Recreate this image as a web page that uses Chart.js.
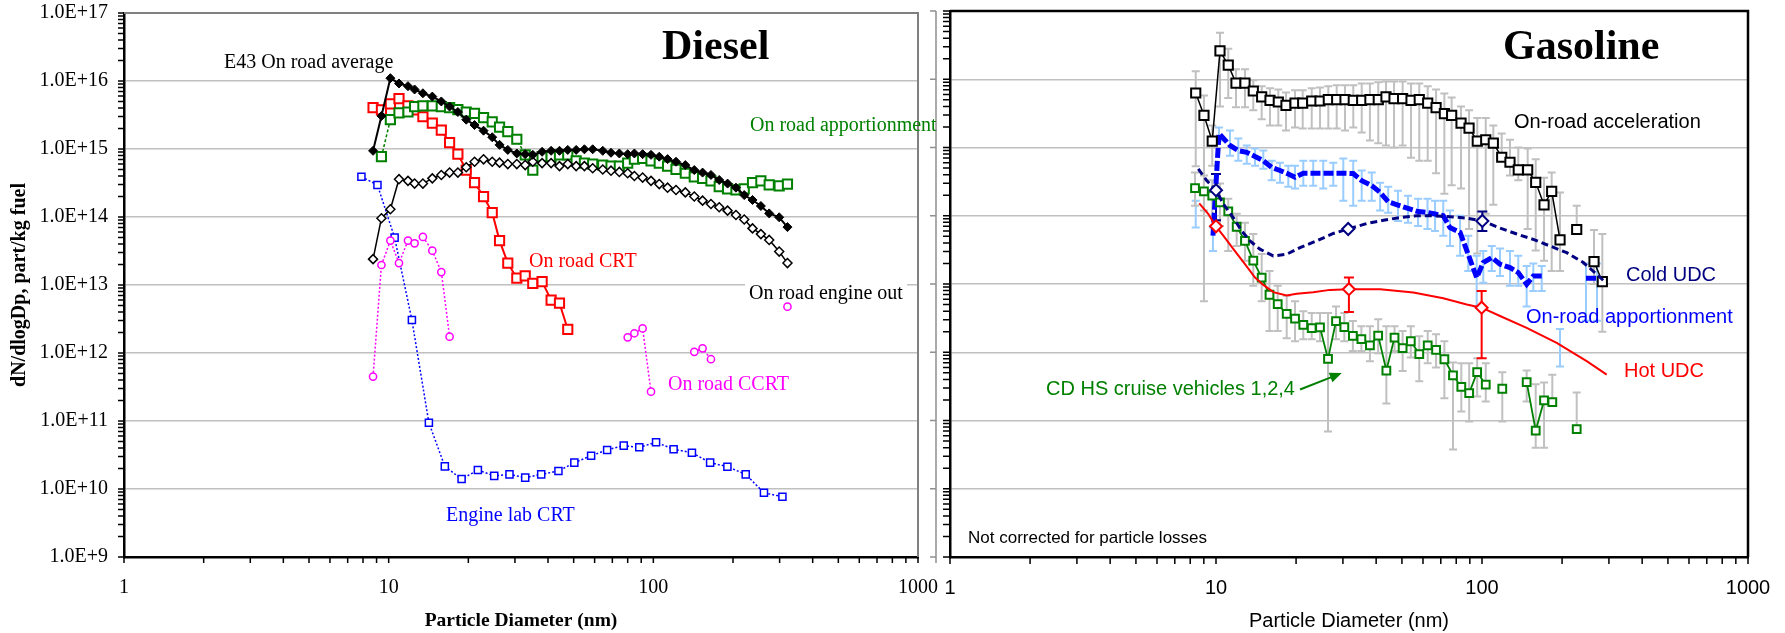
<!DOCTYPE html>
<html lang="en">
<head>
<meta charset="UTF-8" />
<title>Particle size distributions: Diesel and Gasoline</title>
<script src="https://cdn.jsdelivr.net/npm/chart.js"></script>
<style>
  body { margin: 0; background: #fff; }
  #wrap { position: relative; width: 1785px; height: 633px; overflow: hidden; background: #fff; }
  #dieselChart { position: absolute; left: 0; top: 0; }
  #gasChart { position: absolute; left: 930px; top: 0; }
  .lbl { position: absolute; white-space: nowrap; line-height: 1; }
  .serif { font-family: "Liberation Serif", "Times New Roman", serif; font-size: 20px; }
  .sans { font-family: "Liberation Sans", Arial, sans-serif; font-size: 20px; }
  .big { font-family: "Liberation Serif", "Times New Roman", serif; font-weight: bold; font-size: 42px; }
</style>
</head>
<body>
<div id="wrap">
  <canvas id="dieselChart" width="940" height="633"></canvas>
  <canvas id="gasChart" width="855" height="633"></canvas>

  <div class="lbl serif" style="left:224px; top:51px;">E43 On road average</div>
  <div class="lbl big" style="left:662px; top:24px;">Diesel</div>
  <div class="lbl serif" style="left:750px; top:114px; color:#008000;">On road apportionment</div>
  <div class="lbl serif" style="left:529px; top:250px; color:#ff0000;">On road CRT</div>
  <div class="lbl serif" style="left:745px; top:282px; background:#fff; padding:0 4px;">On road engine out</div>
  <div class="lbl serif" style="left:668px; top:373px; color:#ff00ff;">On road CCRT</div>
  <div class="lbl serif" style="left:446px; top:504px; color:#0000ff;">Engine lab CRT</div>

  <div class="lbl big" style="left:1503px; top:24px;">Gasoline</div>
  <div class="lbl sans" style="left:1514px; top:111px;">On-road acceleration</div>
  <div class="lbl sans" style="left:1626px; top:264px; color:#000080;">Cold UDC</div>
  <div class="lbl sans" style="left:1526px; top:306px; color:#0000ff;">On-road apportionment</div>
  <div class="lbl sans" style="left:1624px; top:360px; color:#ff0000;">Hot UDC</div>
  <div class="lbl sans" style="left:1046px; top:378px; color:#008000;">CD HS cruise vehicles 1,2,4</div>
  <div class="lbl sans" style="left:968px; top:529px; font-size:17px;">Not corrected for particle losses</div>
</div>

<script>
const SERIF = '"Liberation Serif", "Times New Roman", serif';
const SANS = '"Liberation Sans", Arial, sans-serif';

// axis decades
const sizeTicks = [1, 10, 100, 1000];
const countTicks = [1e9, 1e10, 1e11, 1e12, 1e13, 1e14, 1e15, 1e16, 1e17];

// ---- Diesel (particle diameter in nm, dN/dlogDp in part/kg fuel) ----
const dieselSize = [8.73, 9.39, 10.15, 10.94, 11.83, 12.53, 13.47, 14.62, 15.81, 16.99, 18.26, 19.64, 21.11, 22.83, 24.62, 26.24, 28.19, 30.49, 32.8, 35.04,
  38.0, 41.1, 44.2, 47.5, 51.1, 54.9, 59.0, 64.4, 69.2, 74.4, 80.0, 84.8, 91.1, 98.0, 105.3, 113.2, 121.8, 132.1, 142.8, 153.5,
  165.1, 177.4, 190.8, 205.2, 220.5, 237.0, 254.9, 274.0, 298.9, 321.2];
const e43Average = [9.4e14, 3.06e15, 1.1e16, 9.2e15, 8.4e15, 7.5e15, 6.6e15, 5.9e15, 5.0e15, 4.2e15, 3.5e15, 2.7e15, 2.25e15, 1.86e15, 1.49e15, 1.15e15, 9.7e14, 8.6e14, 8.4e14, 8.2e14,
  9.1e14, 9.4e14, 9.4e14, 9.7e14, 9.7e14, 9.9e14, 9.9e14, 9.4e14, 8.8e14, 8.6e14, 8.4e14, 8.6e14, 8.4e14, 8.2e14, 7.7e14, 7.1e14, 6.5e14, 5.8e14, 4.9e14, 4.5e14,
  4.15e14, 3.5e14, 3.1e14, 2.7e14, 2.1e14, 1.78e14, 1.45e14, 1.13e14, 9.9e13, 7.1e13];
const engineOut = [2.4e13, 9.6e13, 1.3e14, 3.6e14, 3.4e14, 3.1e14, 3.1e14, 3.7e14, 4.15e14, 4.5e14, 4.5e14, 5.4e14, 6.5e14, 7.05e14, 6.5e14, 6.3e14, 6.0e14, 6.0e14, 5.8e14, 6.5e14,
  6.2e14, 6.2e14, 5.6e14, 6.0e14, 5.6e14, 5.6e14, 5.2e14, 5.0e14, 4.8e14, 4.6e14, 4.4e14, 4.0e14, 3.8e14, 3.4e14, 3.05e14, 2.7e14, 2.5e14, 2.3e14, 2.0e14, 1.74e14,
  1.55e14, 1.39e14, 1.24e14, 1.07e14, 9.2e13, 6.8e13, 5.6e13, 4.6e13, 3.1e13, 2.1e13];
const dieselApport = [null, 7.7e14, 2.7e15, 3.4e15, 3.5e15, 4.2e15, 4.3e15, 4.3e15, 4.2e15, 4.05e15, 3.8e15, 3.5e15, 3.35e15, 2.9e15, 2.5e15, 2.1e15, 1.8e15, 1.39e15, 8.2e14, 4.9e14,
  7.7e14, 7.7e14, 8.2e14, 8.2e14, 6.7e14, 6.2e14, 6.0e14, 5.8e14, 5.6e14, 5.6e14, 6.2e14, 7.1e14, 7.3e14, 6.7e14, 6.2e14, 5.6e14, 5.0e14, 4.4e14, 3.9e14, 3.7e14,
  3.4e14, 2.8e14, 2.6e14, 2.5e14, 2.6e14, 3.2e14, 3.4e14, 2.96e14, 2.86e14, 3.05e14];
const onRoadCRT = [4.05e15, 3.75e15, 4.6e15, 5.5e15, 4.3e15, 3.75e15, 2.98e15, 2.4e15, 1.9e15, 1.24e15, 8.4e14, 4.9e14, 3.2e14, 2.0e14, 1.16e14, 4.5e13, 2.1e13, 1.26e13, 1.36e13, 1.06e13,
  1.12e13, 6.0e12, 5.4e12, 2.23e12];
const ccrtSize = [8.73, 9.39, 10.15, 10.94, 11.83, 12.53, 13.47, 14.62, 15.81, 16.99, null, 80.0, 84.8, 91.1, 98.0, null, 142.8, 153.5, 165.1, null, 321.2];
const onRoadCCRT = [4.5e11, 1.97e13, 4.5e13, 2.1e13, 4.5e13, 4.1e13, 5.1e13, 3.2e13, 1.55e13, 1.74e12, null, 1.7e12, 1.95e12, 2.3e12, 2.7e11, null, 1.04e12, 1.17e12, 8.1e11, null, 4.8e12];
const labSize = [7.89, 9.07, 10.53, 12.24, 14.19, 16.3, 18.86, 21.73, 25.05, 28.61, 32.8, 37.7, 43.8, 50.3, 58.2, 66.9, 77.3, 88.5, 102.4, 119.3, 139.9, 163.9, 190.5, 223.4, 261.8, 307.4];
const engineLabCRT = [3.9e14, 2.96e14, 4.97e13, 3.05e12, 9.4e10, 2.15e10, 1.4e10, 1.9e10, 1.56e10, 1.64e10, 1.47e10, 1.64e10, 1.84e10, 2.44e10, 3.09e10, 3.75e10, 4.34e10, 4.1e10, 4.86e10, 3.84e10,
  3.42e10, 2.44e10, 2.13e10, 1.64e10, 8.8e9, 7.7e9];

// ---- Gasoline ----
const accSize = [8.39, 9.01, 9.68, 10.35, 11.12, 11.89, 12.85, 13.81, 14.85, 15.96, 17.15, 18.33, 19.82, 21.18, 22.9, 24.6, 26.44, 28.43, 30.55, 32.82,
  35.3, 37.9, 40.75, 43.56, 46.7, 50.3, 54.1, 58.1, 62.5, 67.2, 72.2, 76.9, 83.4, 89.4, 96.0, 103.3, 110.3, 118.6, 127.4, 136.9,
  148.5, 159.2, 171.1, 182.8, 196.5, null, 227.0, null, 263.7, 283.4];
const accMean = [6.29e15, 2.96e15, 1.24e15, 2.61e16, 1.61e16, 8.8e15, 8.8e15, 6.73e15, 5.5e15, 4.91e15, 4.64e15, 4.15e15, 4.48e15, 4.48e15, 4.8e15, 4.8e15, 5.03e15, 5.03e15, 5.03e15, 4.91e15,
  4.91e15, 5.03e15, 5.03e15, 5.5e15, 5.2e15, 5.2e15, 4.91e15, 5.03e15, 4.48e15, 3.84e15, 3.13e15, 2.96e15, 2.28e15, 1.92e15, 1.24e15, 1.3e15, 1.16e15, 7.2e14, 6.08e14, 4.7e14,
  4.7e14, 3.09e14, 1.44e14, 2.28e14, 4.44e13, null, 6.29e13, null, 2.13e13, 1.08e13];
const accHi = [1.31e16, 5.8e15, 2.1e15, 4.8e16, 2.8e16, 1.4e16, 1.4e16, 9.7e15, 7.9e15, 7.4e15, 7.1e15, 6.4e15, 6.9e15, 6.9e15, 7.4e15, 7.6e15, 7.9e15, 8.2e15, 8.2e15, 8.2e15,
  8.7e15, 8.7e15, 9.0e15, 9.3e15, 9.3e15, 9.3e15, 8.7e15, 8.7e15, 7.9e15, 7.1e15, 6.2e15, 5.4e15, 4.0e15, 3.5e15, 2.7e15, 2.7e15, 2.1e15, 1.6e15, 1.3e15, 1.0e15,
  9.7e14, 6.7e14, 3.6e14, 4.3e14, 2.2e14, null, 1.4e14, null, 6.2e13, 5.4e13];
const accLo = [5.3e14, 5.6e12, 5.4e14, 4.0e15, 5.3e15, 3.9e15, 3.9e15, 3.5e15, 2.6e15, 2.1e15, 2.1e15, 1.78e15, 1.97e15, 1.9e15, 1.9e15, 1.9e15, 1.9e15, 1.9e15, 1.78e15, 1.97e15,
  1.66e15, 1.27e15, 1.15e15, 1.07e15, 1.0e15, 1.07e15, 7.1e14, 6.4e14, 6.4e14, 4.2e14, 2.1e14, 2.8e14, 2.5e14, 6.4e13, 2.8e13, 1.07e14, 1.45e14, 6.4e14, 3.9e14, 3.3e14,
  6.4e13, 3.1e13, 2.2e13, 1.55e13, 1.55e13, null, 6.0e13, null, 1.0e13, 2.0e12];

const appSize = [8.39, null, 9.74, 10.26, 11.29, 12.13, 13.05, 14.02, 15.06, 16.2, 17.4, 18.7, 19.82, 21.29, 23.2, 25.3, 27.6, 30.1, 32.8, 35.3,
  38.5, 41.4, 44.4, 48.3, 52.7, 57.5, 62.4, 66.6, 71.5, 75.8, 82.7, 88.8, 95.5, 101.1, 108.8, 116.9, 127.4, 136.9, 147.2, 155.9,
  167.7, null, 196.5, null, 246, 270.6];
const appMean = [1.07e14, null, 5.1e13, 1.6e15, 1.07e15, 9.0e14, 8.5e14, 7.4e14, 6.4e14, 5.1e14, 4.6e14, 4.1e14, 3.66e14, 4.2e14, 4.2e14, 4.2e14, 4.2e14, 4.2e14, 4.15e14, 3.27e14,
  2.76e14, 2.2e14, 1.6e14, 1.43e14, 1.28e14, 1.15e14, 1.12e14, 1.06e14, 1.0e14, 6.7e13, 5.7e13, 2.7e13, 1.24e13, 2.06e13, 2.44e13, 1.95e13, 1.74e13, 1.47e13, 9.9e12, 1.31e13,
  1.31e13, null, 1.19e12, null, 1.21e13, 1.21e13];
const appHi = [1.66e14, null, 6.7e13, 1.97e15, 1.78e15, 1.36e15, 1.07e15, 9.7e14, 9.0e14, 6.4e14, 6.0e14, 5.4e14, 5.4e14, 6.4e14, 6.4e14, 6.4e14, 6.0e14, 6.9e14, 6.4e14, 4.6e14,
  4.3e14, 3.05e14, 2.67e14, 2.33e14, 1.97e14, 1.78e14, 1.78e14, 1.66e14, 1.66e14, 1.19e14, 1.0e14, 5.1e13, 2.6e13, 3.05e13, 3.6e13, 3.3e13, 3.05e13, 2.6e13, 1.84e13, 2.0e13,
  1.84e13, null, 2.2e12, null, 2.0e13, 2.0e13];
const appLo = [6.7e13, null, 3.05e13, 1.27e15, 7.6e14, 6.4e14, 5.8e14, 5.4e14, 4.9e14, 3.3e14, 3.05e14, 2.67e14, 2.5e14, 2.76e14, 2.76e14, 2.5e14, 2.76e14, 1.66e14, 1.4e14, 1.66e14,
  1.66e14, 1.19e14, 1.11e14, 8.4e13, 7.9e13, 7.1e13, 6.4e13, 6.0e13, 5.1e13, 3.6e13, 2.6e13, 1.55e13, 4.7e12, 1.04e13, 1.55e13, 1.31e13, 9.4e12, 9.4e12, 4.7e12, 7.9e12,
  7.9e12, null, 6.2e11, null, 2.9e12, 2.9e12];

const coldSize = [8.58, 9.23, 10.0, 10.65, 11.61, 12.49, 13.42, 14.63, 16.42, 18.44, 20.7, 23.9, 27.6, 31.4, 36.9, 42.6, 49.2, 56.8, 65.6, 75.8,
  87.6, 100.3, 116.9, 135.1, 155.9, 180.2, 208.2, 240.4, 269.9, 285.8];
const coldUDC = [4.86e14, 3.27e14, 2.37e14, 1.49e14, 9.4e13, 6.0e13, 4.28e13, 3.24e13, 2.58e13, 2.73e13, 3.42e13, 4.28e13, 5.5e13, 6.4e13, 7.7e13, 8.6e13, 9.4e13, 1.0e14, 1.0e14, 9.7e13,
  9.25e13, 8.4e13, 6.6e13, 5.4e13, 4.5e13, 3.6e13, 2.88e13, 2.06e13, 1.39e13, 1.13e13];
const coldMarks = [2, 13, 21];
const coldMarkHi = [4.1e14, null, 1.15e14];
const coldMarkLo = [8.6e13, null, 6.0e13];

const hotSize = [8.65, 9.36, 10.0, 10.65, 11.61, 12.85, 14.02, 15.06, 16.42, 18.44, 20.1, 23.2, 26.8, 31.6, 41.4, 55.2, 71.5, 87.6, 99.7, 116.9,
  147.2, 190.9, 247.5, 294.3];
const hotUDC = [1.52e14, 1.06e14, 7.0e13, 5.1e13, 3.27e13, 1.95e13, 1.24e13, 9.7e12, 7.6e12, 6.8e12, 7.2e12, 7.6e12, 8.2e12, 8.4e12, 8.4e12, 7.5e12, 6.2e12, 5.0e12, 4.5e12, 3.4e12,
  2.28e12, 1.37e12, 7.4e11, 4.7e11];
const hotMarks = [2, 13, 18];
const hotMarkHi = [null, 1.24e13, 7.9e12];
const hotMarkLo = [null, 3.9e12, 8.2e11];

const cruiseSize = [8.34, 9.01, 9.68, 10.35, 11.12, 11.96, 12.85, 13.81, 14.85, 15.89, 17.06, 18.44, 19.82, 21.29, 22.9, 24.6, 26.37, 28.26, 30.37, 32.7,
  35.2, 37.9, 40.7, 43.7, 46.9, 50.3, 54.0, 58.1, 62.5, 67.2, 72.2, 77.8, 83.6, 89.5, 95.9, 103.3, null, 119.2, null, 147.2,
  159.2, 171.1, 183.8, null, 227.0];
const cruiseMean = [2.54e14, 2.28e14, 1.97e14, 1.57e14, 1.16e14, 6.9e13, 4.28e13, 2.2e13, 1.24e13, 6.96e12, 5.08e12, 3.66e12, 3.11e12, 2.52e12, 2.25e12, 2.31e12, 8.0e11, 2.86e12, 2.33e12, 1.74e12,
  1.56e12, 1.26e12, 1.75e12, 5.4e11, 1.64e12, 1.15e12, 1.45e12, 9.4e11, 1.26e12, 1.08e12, 7.9e11, 4.6e11, 3.1e11, 2.52e11, 5.1e11, 3.35e11, null, 2.92e11, null, 3.66e11,
  7.1e10, 1.97e11, 1.86e11, null, 7.5e10];
const cruiseHi = [4.3e14, 3.9e14, 3.3e14, 2.96e14, 1.78e14, 1.07e14, 7.9e13, 5.4e13, 2.76e13, 1.55e13, 9.4e12, 6.7e12, 5.6e12, 4.0e12, 3.75e12, 3.75e12, 3.75e12, 4.7e12, 3.75e12, 2.86e12,
  2.41e12, 2.41e12, 3.05e12, 2.41e12, 2.41e12, 2.04e12, 2.41e12, 1.72e12, 2.04e12, 1.84e12, 1.45e12, 7.1e11, 6.9e11, 6.9e11, 8.2e11, 6.9e11, null, 5.1e11, null, 5.4e11,
  3.4e11, 3.6e11, 4.7e11, null, 2.58e11];
const cruiseLo = [1.4e14, 1.19e14, 1.0e14, 7.1e13, 3.05e13, 3.6e13, 2.2e13, 9.4e12, 5.6e12, 2.04e12, 2.04e12, 1.61e12, 1.45e12, 1.55e12, 1.55e12, 1.45e12, 6.9e10, 1.55e12, 1.45e12, 1.04e12,
  1.04e12, 7.4e11, 9.7e11, 1.78e11, 1.04e12, 5.3e11, 8.4e11, 3.75e11, 6.9e11, 6.0e11, 2.11e11, 3.75e10, 1.36e11, 9.7e10, 2.25e11, 1.9e11, null, 9.7e10, null, 1.9e11,
  4.0e10, 4.0e10, 1.9e11, null, 7.4e10];
// arrow from the cruise label towards the curve (nm, part/kg fuel)
const cruiseArrow = { from: [20.7, 2.85e11], to: [29.7, 4.95e11] };

// a null size or value breaks the line
function pts(xs, ys) {
  return ys.map((y, i) => ({ x: xs[i] != null ? xs[i] : xs[i - 1], y: y }));
}
function spread(n, idx, vals) {
  const out = new Array(n).fill(null);
  idx.forEach((k, j) => { out[k] = vals[j]; });
  return out;
}

// vertical error bars, drawn under the lines
const errorBars = {
  id: 'errorBars',
  beforeDatasetsDraw(chart) {
    const { ctx, scales: { x, y } } = chart;
    const sets = chart.data.datasets.slice().reverse();
    sets.forEach(ds => {
      if (!ds.errHi) return;
      ctx.save();
      ctx.strokeStyle = ds.errColor;
      ctx.lineWidth = ds.errWidth || 2;
      const cap = ds.errCap || 4;
      ds.data.forEach((p, j) => {
        const hi = ds.errHi[j], lo = ds.errLo[j];
        if (hi == null || lo == null || p.y == null) return;
        const px = x.getPixelForValue(p.x);
        const ph = y.getPixelForValue(hi), pl = y.getPixelForValue(lo);
        ctx.beginPath();
        ctx.moveTo(px, ph); ctx.lineTo(px, pl);
        ctx.moveTo(px - cap, ph); ctx.lineTo(px + cap, ph);
        ctx.moveTo(px - cap, pl); ctx.lineTo(px + cap, pl);
        ctx.stroke();
      });
      ctx.restore();
    });
  }
};

// log tick marks on both axes plus the top/right frame
const frame = {
  id: 'frame',
  afterDraw(chart, args, o) {
    const { ctx, chartArea: a, scales: { x, y } } = chart;
    ctx.save();
    ctx.strokeStyle = o.color;
    ctx.lineWidth = o.width;
    ctx.beginPath();
    ctx.moveTo(a.left, a.top); ctx.lineTo(a.right, a.top); ctx.lineTo(a.right, a.bottom);
    ctx.stroke();

    ctx.strokeStyle = '#000';
    ctx.lineWidth = 1.5;
    ctx.beginPath();
    for (let e = 0; e <= 3; e++) {
      for (let k = 1; k <= 9; k++) {
        const v = k * Math.pow(10, e);
        if (v > 1000) break;
        const px = x.getPixelForValue(v);
        ctx.moveTo(px, a.bottom); ctx.lineTo(px, a.bottom + o.tick);
      }
    }
    for (let e = 9; e <= 17; e++) {
      for (let k = 1; k <= 9; k++) {
        const v = k * Math.pow(10, e);
        if (v > 1e17) break;
        const py = y.getPixelForValue(v);
        ctx.moveTo(a.left - o.tick, py); ctx.lineTo(a.left, py);
      }
    }
    ctx.stroke();

    if (o.divider != null) {
      ctx.strokeStyle = '#909090';
      ctx.lineWidth = 1.5;
      ctx.beginPath();
      ctx.moveTo(o.divider, a.top); ctx.lineTo(o.divider, a.bottom + 6);
      countTicks.forEach(v => {
        const py = y.getPixelForValue(v);
        ctx.moveTo(o.divider - 6, py); ctx.lineTo(o.divider, py);
      });
      ctx.stroke();
    }

    if (o.arrow) {
      const x0 = x.getPixelForValue(o.arrow.from[0]), y0 = y.getPixelForValue(o.arrow.from[1]);
      const x1 = x.getPixelForValue(o.arrow.to[0]), y1 = y.getPixelForValue(o.arrow.to[1]);
      const ang = Math.atan2(y1 - y0, x1 - x0);
      ctx.strokeStyle = '#008000';
      ctx.fillStyle = '#008000';
      ctx.lineWidth = 2;
      ctx.beginPath();
      ctx.moveTo(x0, y0);
      ctx.lineTo(x1 - 9 * Math.cos(ang), y1 - 9 * Math.sin(ang));
      ctx.stroke();
      ctx.beginPath();
      ctx.moveTo(x1, y1);
      ctx.lineTo(x1 - 12 * Math.cos(ang) + 5 * Math.sin(ang), y1 - 12 * Math.sin(ang) - 5 * Math.cos(ang));
      ctx.lineTo(x1 - 12 * Math.cos(ang) - 5 * Math.sin(ang), y1 - 12 * Math.sin(ang) + 5 * Math.cos(ang));
      ctx.closePath();
      ctx.fill();
    }
    ctx.restore();
  }
};

function scales(o) {
  return {
    x: {
      type: 'logarithmic', min: 1, max: 1000,
      afterBuildTicks: s => { s.ticks = sizeTicks.map(v => ({ value: v })); },
      // fixed axis box; the end labels may hang over the plot edges
      afterFit: s => { s.height = 76; s.paddingLeft = 0; s.paddingRight = 0; },
      grid: { display: false, drawTicks: false },
      border: { display: true, color: '#000', width: 2.5 },
      ticks: { autoSkip: false, maxRotation: 0, padding: 19, color: '#000', font: { family: o.family, size: 20 }, callback: v => String(v) },
      title: { display: true, text: 'Particle Diameter (nm)', color: '#000', padding: 0, font: { family: o.family, size: o.titleSize, weight: o.titleWeight } }
    },
    y: {
      type: 'logarithmic', min: 1e9, max: 1e17,
      afterBuildTicks: s => { s.ticks = countTicks.map(v => ({ value: v })); },
      afterFit: s => { s.width = o.yWidth; s.paddingTop = 0; s.paddingBottom = 0; },
      grid: { color: '#c0c0c0', lineWidth: 1.5, drawTicks: false },
      border: { display: true, color: '#000', width: 2.5 },
      ticks: { display: o.yLabels, autoSkip: false, padding: 16, color: '#000', font: { family: SERIF, size: 20 },
               callback: v => Number(v).toExponential(1).toUpperCase() },
      title: { display: o.yLabels, text: 'dN/dlogDp, part/kg fuel', color: '#000', padding: { top: 8, bottom: 0 },
               font: { family: SERIF, size: 20, weight: 'bold' } }
    }
  };
}

const common = {
  responsive: false,
  animation: false,
  events: [],
  plugins: { legend: { display: false }, tooltip: { enabled: false } }
};

new Chart(document.getElementById('dieselChart'), {
  type: 'scatter',
  data: {
    datasets: [
      { label: 'E43 On road average', data: pts(dieselSize, e43Average), showLine: true, borderColor: '#000', borderWidth: 2,
        pointStyle: 'rectRot', pointRadius: 4.5, pointBackgroundColor: '#000', pointBorderColor: '#000', pointBorderWidth: 1 },
      { label: 'On road engine out', data: pts(dieselSize, engineOut), showLine: true, borderColor: '#000', borderWidth: 1.5,
        pointStyle: 'rectRot', pointRadius: 4.5, pointBackgroundColor: '#fff', pointBorderColor: '#000', pointBorderWidth: 1.5 },
      { label: 'On road apportionment', data: pts(dieselSize, dieselApport), showLine: true, borderColor: '#008000', borderWidth: 1.5, borderDash: [3, 2],
        pointStyle: 'rect', pointRadius: 6.5, pointBackgroundColor: '#fff', pointBorderColor: '#008000', pointBorderWidth: 2 },
      { label: 'On road CRT', data: pts(dieselSize, onRoadCRT), showLine: true, borderColor: '#ff0000', borderWidth: 2,
        pointStyle: 'rect', pointRadius: 6.5, pointBackgroundColor: '#fff', pointBorderColor: '#ff0000', pointBorderWidth: 2 },
      { label: 'On road CCRT', data: pts(ccrtSize, onRoadCCRT), showLine: true, borderColor: '#ff00ff', borderWidth: 1.5, borderDash: [2, 2],
        pointStyle: 'circle', pointRadius: 3.6, pointBackgroundColor: '#fff', pointBorderColor: '#ff00ff', pointBorderWidth: 1.5 },
      { label: 'Engine lab CRT', data: pts(labSize, engineLabCRT), showLine: true, borderColor: '#0000ff', borderWidth: 1.5, borderDash: [2, 2],
        pointStyle: 'rect', pointRadius: 5, pointBackgroundColor: '#fff', pointBorderColor: '#0000ff', pointBorderWidth: 1.5 }
    ]
  },
  options: Object.assign({}, common, {
    layout: { padding: { top: 13, right: 22, left: 0, bottom: 0 } },
    plugins: Object.assign({}, common.plugins, { frame: { color: '#808080', width: 2, tick: 6 } }),
    scales: scales({ family: SERIF, titleSize: 19.5, titleWeight: 'bold', yWidth: 124, yLabels: true })
  }),
  plugins: [errorBars, frame]
});

new Chart(document.getElementById('gasChart'), {
  type: 'scatter',
  data: {
    datasets: [
      { label: 'Hot UDC', data: pts(hotSize, hotUDC), showLine: true, borderColor: '#ff0000', borderWidth: 2,
        pointStyle: 'rectRot', pointRadius: c => hotMarks.includes(c.dataIndex) ? 6 : 0,
        pointBackgroundColor: '#fff', pointBorderColor: '#ff0000', pointBorderWidth: 2,
        errHi: spread(hotUDC.length, hotMarks, hotMarkHi), errLo: spread(hotUDC.length, hotMarks, hotMarkLo), errColor: '#ff0000', errCap: 5 },
      { label: 'Cold UDC', data: pts(coldSize, coldUDC), showLine: true, borderColor: '#000080', borderWidth: 3, borderDash: [7, 4],
        pointStyle: 'rectRot', pointRadius: c => coldMarks.includes(c.dataIndex) ? 6 : 0,
        pointBackgroundColor: '#fff', pointBorderColor: '#000080', pointBorderWidth: 2,
        errHi: spread(coldUDC.length, coldMarks, coldMarkHi), errLo: spread(coldUDC.length, coldMarks, coldMarkLo), errColor: '#000080', errCap: 5 },
      { label: 'CD HS cruise vehicles 1,2,4', data: pts(cruiseSize, cruiseMean), showLine: true, borderColor: '#008000', borderWidth: 1.8,
        pointStyle: 'rect', pointRadius: 5.5, pointBackgroundColor: '#fff', pointBorderColor: '#008000', pointBorderWidth: 2,
        errHi: cruiseHi, errLo: cruiseLo, errColor: '#c0c0c0', errCap: 4 },
      { label: 'On-road acceleration', data: pts(accSize, accMean), showLine: true, borderColor: '#000', borderWidth: 1.5,
        pointStyle: 'rect', pointRadius: 6.5, pointBackgroundColor: '#fff', pointBorderColor: '#000', pointBorderWidth: 2,
        errHi: accHi, errLo: accLo, errColor: '#c0c0c0', errCap: 4 },
      { label: 'On-road apportionment', data: pts(appSize, appMean), showLine: true, borderColor: '#0000ff', borderWidth: 5, borderDash: [10, 3],
        pointRadius: 0, errHi: appHi, errLo: appLo, errColor: '#99ccff', errCap: 4 }
    ]
  },
  options: Object.assign({}, common, {
    layout: { padding: { top: 11, right: 37, left: 0, bottom: 0 } },
    plugins: Object.assign({}, common.plugins, { frame: { color: '#000', width: 2.5, tick: 7, divider: 6, arrow: cruiseArrow } }),
    scales: scales({ family: SANS, titleSize: 20, titleWeight: 'normal', yWidth: 20, yLabels: false })
  }),
  plugins: [errorBars, frame]
});
</script>
</body>
</html>
